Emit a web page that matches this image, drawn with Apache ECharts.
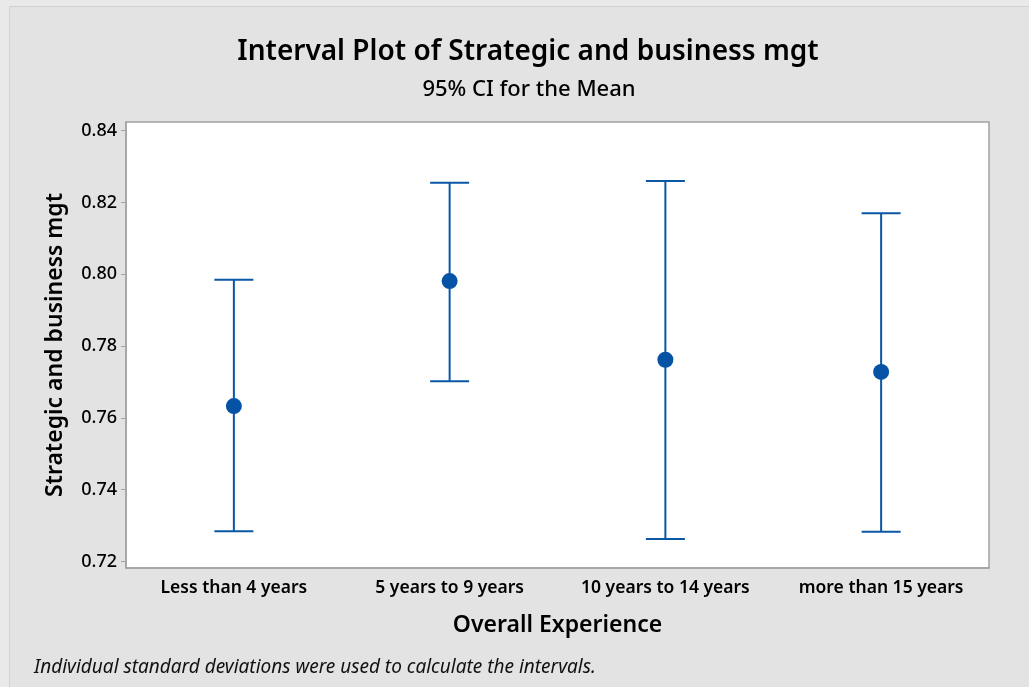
<!DOCTYPE html>
<html>
<head>
<meta charset="utf-8">
<script src="https://cdn.jsdelivr.net/npm/echarts@6/dist/echarts.min.js"></script>
<style>
  html, body { margin: 0; padding: 0; background: #e3e3e3; }
  #chart { width: 1029px; height: 687px; }
</style>
</head>
<body>
<div id="chart"></div>
<script>
// datos
const categorias = ['Less than 4 years', '5 years to 9 years', '10 years to 14 years', 'more than 15 years'];
const medias = [0.7633, 0.7981, 0.7762, 0.7728];
const limiteInf = [0.7284, 0.7702, 0.7263, 0.7283];
const limiteSup = [0.7985, 0.8255, 0.8260, 0.8170];
const ticksY = [0.72, 0.74, 0.76, 0.78, 0.80, 0.82, 0.84];

const fuente = '"Noto Sans", "Open Sans", sans-serif';
const azul = '#0a57a6';

const chart = echarts.init(document.getElementById('chart'));

const intervalos = categorias.map((c, i) => [i, limiteInf[i], limiteSup[i]]);

chart.setOption({
    backgroundColor: '#e3e3e3',
    animation: false,
    textStyle: { fontFamily: fuente },
    graphic: [
        { type: 'rect', z: -10, shape: { x: 0, y: 0, width: 1029, height: 687 }, style: { fill: '#e9e9e9' } },
        { type: 'rect', z: -9, shape: { x: 9.5, y: 6.5, width: 1030, height: 690 }, style: { fill: '#e3e3e3', stroke: '#d2d2d2', lineWidth: 1 } },
        {
            type: 'text', left: 34, top: 658,
            style: { text: 'Individual standard deviations were used to calculate the intervals.', font: 'italic 19px ' + fuente, fill: '#111' }
        }
    ],
    title: [
        {
            text: 'Interval Plot of Strategic and business mgt',
            left: 523, top: 33, textAlign: 'center',
            textStyle: { fontSize: 28, fontWeight: 600, color: '#000', fontFamily: fuente }
        },
        {
            text: '95% CI for the Mean',
            left: 524, top: 74, textAlign: 'center',
            textStyle: { fontSize: 22, fontWeight: 500, color: '#000', fontFamily: fuente }
        }
    ],
    grid: {
        left: 126, right: 40, top: 122, bottom: 119,
        show: true, backgroundColor: '#fff', borderColor: '#a3a3a3', borderWidth: 1.5
    },
    xAxis: {
        type: 'category',
        data: categorias,
        boundaryGap: true,
        name: 'Overall Experience',
        nameLocation: 'middle',
        nameGap: 46,
        nameTextStyle: { fontSize: 23, fontWeight: 600, color: '#000' },
        axisLine: { lineStyle: { color: '#a3a3a3', width: 1.5 } },
        axisTick: { alignWithLabel: true, length: 5, lineStyle: { color: '#a3a3a3' } },
        axisLabel: { interval: 0, fontSize: 17.5, fontWeight: 600, color: '#000', margin: 11 },
        splitLine: { show: false }
    },
    yAxis: {
        type: 'value',
        min: 0.7182,
        max: 0.8424,
        name: 'Strategic and business mgt',
        nameLocation: 'middle',
        nameGap: 59,
        nameTextStyle: { fontSize: 23, fontWeight: 600, color: '#000' },
        axisLine: { show: true, lineStyle: { color: '#a3a3a3', width: 1.5 } },
        axisTick: { show: true, length: 5, customValues: ticksY, lineStyle: { color: '#a3a3a3' } },
        axisLabel: {
            fontSize: 18, fontWeight: 500, color: '#000', margin: 9,
            customValues: ticksY,
            formatter: v => v.toFixed(2)
        },
        splitLine: { show: false }
    },
    series: [
        {
            type: 'custom',
            data: intervalos,
            renderItem: (params, api) => {
                const x = api.value(0);
                const arriba = api.coord([x, api.value(2)]);
                const abajo = api.coord([x, api.value(1)]);
                const w = 19.5;
                const estilo = { stroke: azul, lineWidth: 2 };
                return {
                    type: 'group',
                    children: [
                        { type: 'line', shape: { x1: arriba[0], y1: arriba[1], x2: abajo[0], y2: abajo[1] }, style: estilo },
                        { type: 'line', shape: { x1: arriba[0] - w, y1: arriba[1], x2: arriba[0] + w, y2: arriba[1] }, style: estilo },
                        { type: 'line', shape: { x1: abajo[0] - w, y1: abajo[1], x2: abajo[0] + w, y2: abajo[1] }, style: estilo }
                    ]
                };
            },
            z: 2
        },
        {
            type: 'scatter',
            data: medias,
            symbol: 'circle',
            symbolSize: 16,
            itemStyle: { color: '#0653a5', opacity: 1 },
            z: 3
        }
    ]
});

window.addEventListener('resize', () => chart.resize());
</script>
</body>
</html>
